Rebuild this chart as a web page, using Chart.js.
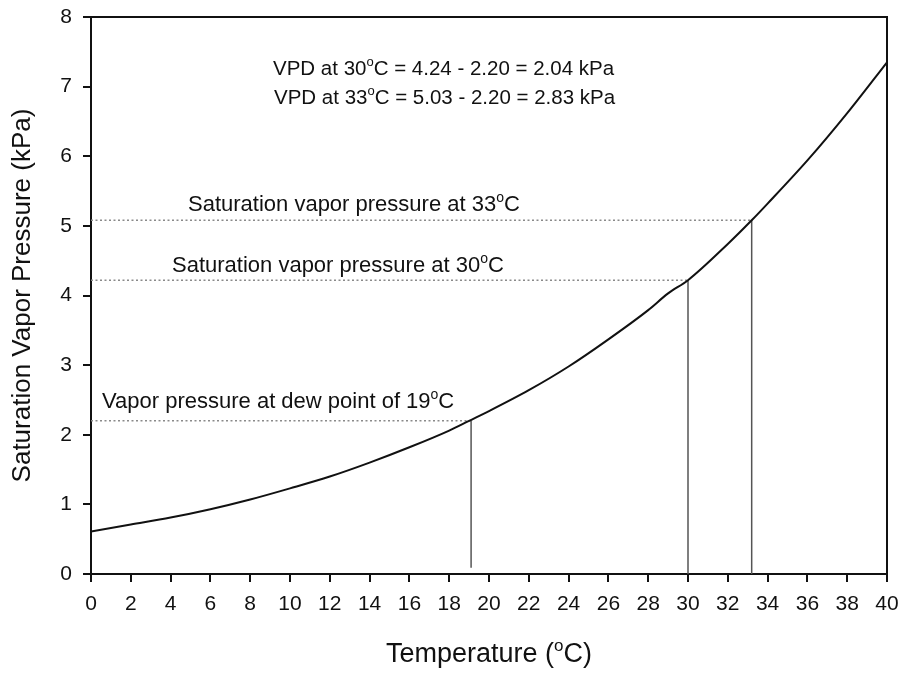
<!DOCTYPE html>
<html>
<head>
<meta charset="utf-8">
<script src="https://cdn.jsdelivr.net/npm/chart.js@4.4.1/dist/chart.umd.min.js"></script>
<style>
html,body{margin:0;padding:0;background:#fff;}
#wrap{width:902px;height:677px;}
</style>
</head>
<body>
<div id="wrap"><canvas id="c" width="902" height="677"></canvas></div>
<script>
// Saturation vapour pressure curve
const temperatures = [0, 2, 4, 6, 8, 10, 12, 14, 16, 18, 19, 20, 22, 24, 26, 28, 29, 30, 32, 33.2, 34, 36, 38, 40];
const pressures    = [0.61, 0.71, 0.81, 0.93, 1.07, 1.23, 1.40, 1.60, 1.82, 2.06, 2.20, 2.34, 2.64, 2.98, 3.37, 3.79, 4.03, 4.22, 4.74, 5.08, 5.32, 5.94, 6.62, 7.35];
// Reference temperatures and their pressures
const refTemps     = [19.1, 30, 33.2];
const refPressures = [2.20, 4.22, 5.08];
const refBottoms   = [0.09, 0, 0];
const xTicks = [0,2,4,6,8,10,12,14,16,18,20,22,24,26,28,30,32,34,36,38,40];
const yTicks = [0,1,2,3,4,5,6,7,8];

const FONT = '"Liberation Sans", Arial, Helvetica, sans-serif';

const curve = temperatures.map((t, i) => ({x: t, y: pressures[i]}));
const datasets = [{
  data: curve,
  borderColor: '#111',
  borderWidth: 2,
  pointRadius: 0,
  cubicInterpolationMode: 'monotone',
  fill: false,
  order: 0
}];
refTemps.forEach((t, i) => {
  datasets.push({
    data: [{x: 0, y: refPressures[i]}, {x: t, y: refPressures[i]}],
    borderColor: '#8a8a8a', borderWidth: 1.5, borderDash: [2, 2.5],
    pointRadius: 0, fill: false, order: 2
  });
  datasets.push({
    data: [{x: t, y: refBottoms[i]}, {x: t, y: refPressures[i]}],
    borderColor: '#555', borderWidth: 1.5,
    pointRadius: 0, fill: false, order: 1
  });
});

// annotation texts: parts with superscript "o"
const notes = [
  {x: 273, y: 75,  size: 20.5, parts: [['VPD at 30'], ['o', 1], ['C = 4.24 - 2.20 = 2.04 kPa']]},
  {x: 274, y: 104, size: 20.5, parts: [['VPD at 33'], ['o', 1], ['C = 5.03 - 2.20 = 2.83 kPa']]},
  {x: 188, y: 211, size: 22, parts: [['Saturation vapor pressure at 33'], ['o', 1], ['C']]},
  {x: 172, y: 272, size: 22, parts: [['Saturation vapor pressure at 30'], ['o', 1], ['C']]},
  {x: 102, y: 408, size: 22, parts: [['Vapor pressure at dew point of 19'], ['o', 1], ['C']]}
];

function drawParts(ctx, x, y, parts, size, align) {
  const supSize = Math.round(size * 0.62);
  let total = 0;
  parts.forEach(p => {
    ctx.font = (p[1] ? supSize : size) + 'px ' + FONT;
    total += ctx.measureText(p[0]).width;
  });
  let cx = align === 'center' ? x - total / 2 : x;
  parts.forEach(p => {
    ctx.font = (p[1] ? supSize : size) + 'px ' + FONT;
    ctx.fillText(p[0], cx, p[1] ? y - size * 0.42 : y);
    cx += ctx.measureText(p[0]).width;
  });
}

const extras = {
  id: 'extras',
  afterDraw(chart) {
    const ctx = chart.ctx;
    const a = chart.chartArea;
    ctx.save();
    // frame top and right
    ctx.strokeStyle = '#111';
    ctx.lineWidth = 2;
    ctx.beginPath();
    ctx.moveTo(a.left, a.top);
    ctx.lineTo(a.right, a.top);
    ctx.lineTo(a.right, a.bottom);
    ctx.stroke();
    ctx.fillStyle = '#111';
    ctx.textAlign = 'left';
    ctx.textBaseline = 'alphabetic';
    notes.forEach(n => drawParts(ctx, n.x, n.y, n.parts, n.size, 'left'));
    // x axis title
    drawParts(ctx, (a.left + a.right) / 2, 662, [['Temperature ('], ['o', 1], ['C)']], 27, 'center');
    ctx.restore();
  }
};

new Chart(document.getElementById('c'), {
  type: 'line',
  data: {datasets},
  plugins: [extras],
  options: {
    responsive: false,
    devicePixelRatio: 1,
    animation: false,
    layout: {padding: {top: 17, right: 15, left: 0, bottom: 0}},
    plugins: {legend: {display: false}, tooltip: {enabled: false}},
    scales: {
      x: {
        type: 'linear', min: 0, max: 40,
        afterFit(s) { s.height = 103; s.paddingLeft = 0; s.paddingRight = 0; },
        afterBuildTicks(s) { s.ticks = xTicks.map(v => ({value: v})); },
        grid: {display: true, drawOnChartArea: false, drawTicks: true, tickLength: 8, color: '#111', lineWidth: 2},
        border: {display: true, color: '#111', width: 2},
        ticks: {color: '#111', font: {family: FONT, size: 21}, padding: 10, maxRotation: 0, autoSkip: false},
        title: {display: false}
      },
      y: {
        type: 'linear', min: 0, max: 8,
        afterFit(s) { s.width = 91; s.paddingTop = 0; s.paddingBottom = 0; },
        afterBuildTicks(s) { s.ticks = yTicks.map(v => ({value: v})); },
        grid: {display: true, drawOnChartArea: false, drawTicks: true, tickLength: 8, color: '#111', lineWidth: 2},
        border: {display: true, color: '#111', width: 2},
        ticks: {color: '#111', font: {family: FONT, size: 21}, padding: 11},
        title: {display: true, text: 'Saturation Vapor Pressure (kPa)', color: '#111',
                font: {family: FONT, size: 26}, padding: {top: 7, bottom: 0}}
      }
    }
  }
});
</script>
</body>
</html>
